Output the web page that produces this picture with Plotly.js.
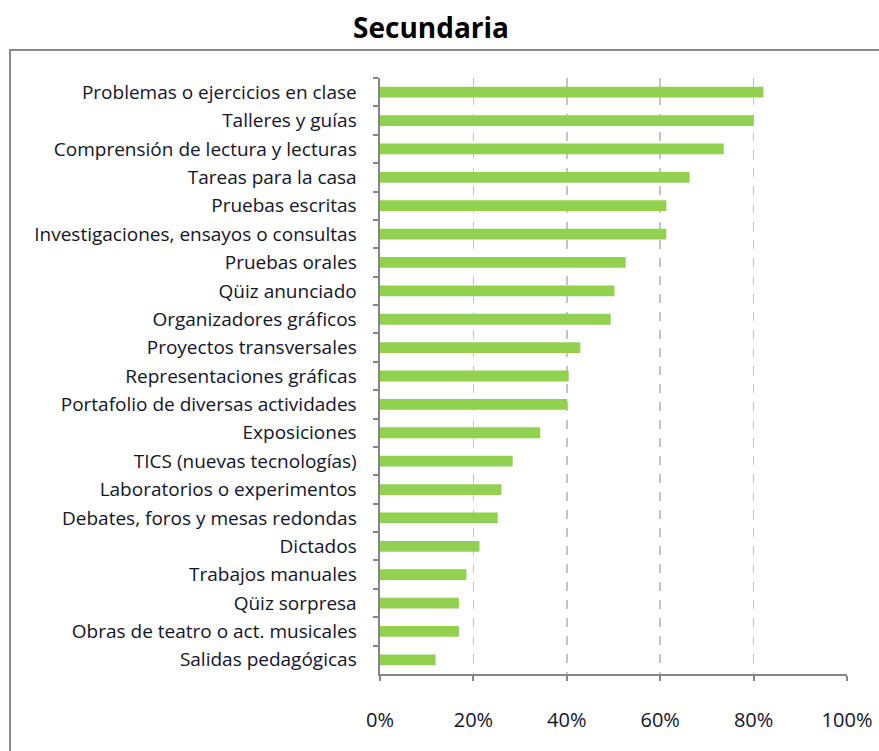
<!DOCTYPE html>
<html>
<head>
<meta charset="utf-8">
<script src="https://cdn.plot.ly/plotly-3.0.1.min.js"></script>
<style>html,body{margin:0;padding:0;background:#fff;}#chart{width:879px;height:751px;}</style>
</head>
<body>
<div id="chart"></div>
<script>
const categories = [
  "Problemas o ejercicios en clase",
  "Talleres y guías",
  "Comprensión de lectura y lecturas",
  "Tareas para la casa",
  "Pruebas escritas",
  "Investigaciones, ensayos o consultas",
  "Pruebas orales",
  "Qüiz anunciado",
  "Organizadores gráficos",
  "Proyectos transversales",
  "Representaciones gráficas",
  "Portafolio de diversas actividades",
  "Exposiciones",
  "TICS (nuevas tecnologías)",
  "Laboratorios o experimentos",
  "Debates, foros y mesas redondas",
  "Dictados",
  "Trabajos manuales",
  "Qüiz sorpresa",
  "Obras de teatro o act. musicales",
  "Salidas pedagógicas"
];
const values = [0.821, 0.800, 0.736, 0.663, 0.613, 0.613, 0.526, 0.502, 0.494, 0.429, 0.404, 0.401, 0.343, 0.284, 0.260, 0.252, 0.213, 0.185, 0.169, 0.169, 0.119];
const xTickVals = [0, 0.2, 0.4, 0.6, 0.8, 1.0];
const xTickText = ["0%", "20%", "40%", "60%", "80%", "100%"];
const chartTitle = "Secundaria";

const W = 879, H = 751;
const margin = {l: 380, r: 32, t: 78, b: 77};
const pw = W - margin.l - margin.r, ph = H - margin.t - margin.b;
const px2x = p => (p - margin.l) / pw;
const py2y = p => (H - margin.b - p) / ph;

const trace = {
  type: 'bar',
  orientation: 'h',
  y: categories,
  x: values,
  marker: {color: '#92D050'},
  hoverinfo: 'none'
};

const layout = {
  width: W, height: H,
  margin: margin,
  paper_bgcolor: '#fff',
  plot_bgcolor: '#fff',
  font: {family: 'Open Sans, sans-serif', size: 16, color: '#14142a'},
  title: {
    text: '<b>' + chartTitle + '</b>',
    font: {family: 'Open Sans, sans-serif', size: 28, color: '#000'},
    x: 431 / W, xref: 'container', xanchor: 'center',
    y: 1 - 28 / H, yref: 'container', yanchor: 'middle'
  },
  bargap: 0.62,
  showlegend: false,
  xaxis: {
    range: [0, 1],
    tickvals: xTickVals,
    ticktext: xTickText,
    showgrid: true,
    gridcolor: '#c4c4c4',
    griddash: 'dash',
    gridwidth: 1.5,
    zeroline: false,
    showline: true,
    linecolor: '#868686',
    linewidth: 2,
    ticks: 'outside',
    ticklen: 5,
    tickcolor: '#868686',
    tickwidth: 2,
    ticklabelstandoff: 22,
    tickfont: {size: 20, color: '#14142a'},
    fixedrange: true
  },
  yaxis: {
    type: 'category',
    autorange: 'reversed',
    tickson: 'boundaries',
    ticks: 'outside',
    ticklen: 5,
    tickcolor: '#868686',
    tickwidth: 2,
    showline: true,
    linecolor: '#868686',
    linewidth: 2.5,
    showgrid: false,
    zeroline: false,
    ticklabelstandoff: 17,
    tickfont: {size: 19, color: '#14142a'},
    fixedrange: true
  },
  shapes: [{
    type: 'rect', xref: 'paper', yref: 'paper',
    x0: px2x(10), x1: px2x(W + 20),
    y0: py2y(H + 20), y1: py2y(50),
    line: {color: '#8c8c8c', width: 2},
    fillcolor: 'rgba(0,0,0,0)',
    layer: 'below'
  }]
};

Plotly.newPlot('chart', [trace], layout, {displayModeBar: false, staticPlot: true});
</script>
</body>
</html>
